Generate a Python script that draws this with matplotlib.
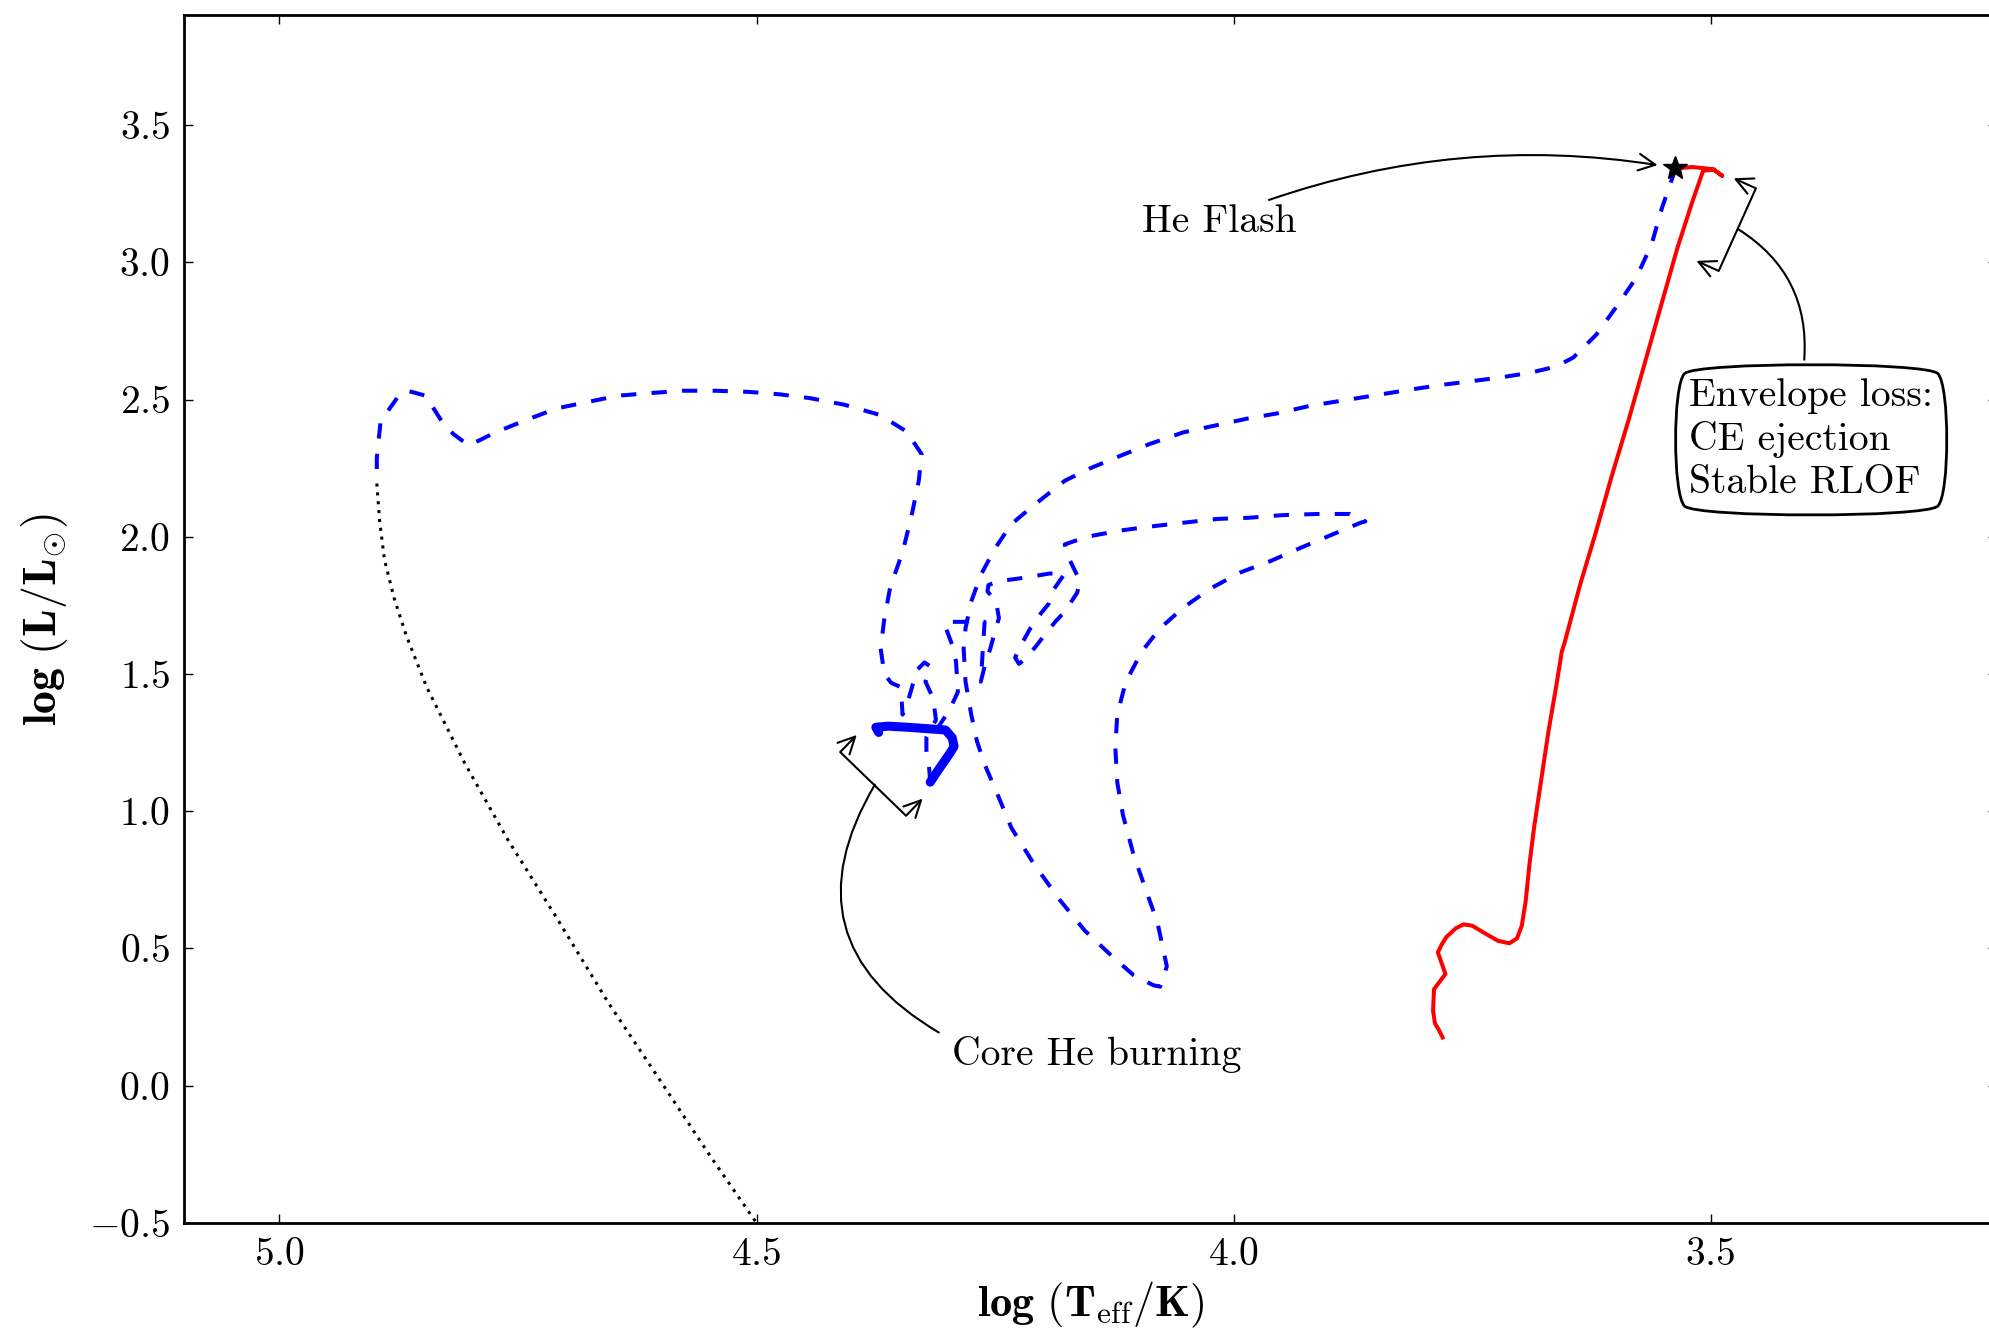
import matplotlib
matplotlib.use('Agg')
import matplotlib.pyplot as plt

plt.rcParams['font.family'] = 'serif'
plt.rcParams['font.serif'] = ['cmr10']
plt.rcParams['mathtext.fontset'] = 'cm'
plt.rcParams['axes.formatter.use_mathtext'] = True
plt.rcParams['lines.scale_dashes'] = False

# --- red giant branch (solid red) ---
rgb_logT = [3.781, 3.785, 3.789, 3.791, 3.790, 3.778, 3.786, 3.782, 3.777, 3.767,
            3.759, 3.750, 3.737, 3.723, 3.711, 3.703, 3.698, 3.694, 3.690, 3.685,
            3.678, 3.670, 3.662, 3.656, 3.653, 3.637, 3.621, 3.604, 3.586, 3.569,
            3.552, 3.535, 3.520, 3.508, 3.497, 3.488, 3.497, 3.508, 3.520, 3.532]
rgb_logL = [0.176, 0.204, 0.227, 0.273, 0.352, 0.407, 0.486, 0.514, 0.542, 0.574,
            0.588, 0.583, 0.556, 0.528, 0.519, 0.537, 0.583, 0.671, 0.806, 0.944,
            1.106, 1.292, 1.454, 1.583, 1.616, 1.824, 2.009, 2.218, 2.426, 2.634,
            2.843, 3.051, 3.213, 3.333, 3.338, 3.315, 3.338, 3.343, 3.347, 3.343]

# --- from the He flash down to core He burning (dashed blue) ---
flash_logT = [3.537, 3.539, 3.551, 3.562, 3.578, 3.597, 3.620, 3.644, 3.662, 3.690,
              3.723, 3.755, 3.787, 3.822, 3.854, 3.888, 3.920, 3.955, 3.985, 4.017,
              4.053, 4.088, 4.118, 4.150, 4.177, 4.209, 4.233, 4.250, 4.265, 4.275,
              4.281, 4.283, 4.281, 4.275, 4.269, 4.261, 4.249, 4.233, 4.209, 4.182,
              4.156, 4.129, 4.105, 4.084, 4.077, 4.070, 4.080, 4.092, 4.105, 4.116,
              4.122, 4.124, 4.122, 4.113, 4.096, 4.077, 4.053, 4.025, 3.993, 3.961,
              3.931, 3.896, 3.867, 3.862, 3.878, 3.912, 3.948, 3.985, 4.017, 4.053,
              4.088, 4.118, 4.154, 4.177, 4.174, 4.161, 4.164, 4.177, 4.186, 4.197,
              4.206, 4.218, 4.225, 4.229, 4.222, 4.213, 4.205, 4.194, 4.189, 4.177,
              4.193, 4.210, 4.227, 4.247, 4.257, 4.258, 4.249, 4.246, 4.251, 4.255,
              4.261, 4.265, 4.261, 4.282, 4.301, 4.303, 4.295, 4.291, 4.289, 4.295,
              4.301, 4.309]
flash_logL = [3.343, 3.319, 3.199, 3.065, 2.944, 2.847, 2.736, 2.653, 2.620, 2.597,
              2.579, 2.565, 2.551, 2.532, 2.514, 2.495, 2.477, 2.449, 2.431, 2.407,
              2.380, 2.338, 2.296, 2.250, 2.204, 2.116, 2.046, 1.958, 1.861, 1.764,
              1.667, 1.593, 1.472, 1.352, 1.255, 1.171, 1.074, 0.940, 0.806, 0.676,
              0.565, 0.477, 0.403, 0.366, 0.361, 0.435, 0.597, 0.713, 0.843, 0.986,
              1.106, 1.231, 1.352, 1.472, 1.583, 1.667, 1.741, 1.810, 1.870, 1.912,
              1.958, 2.009, 2.051, 2.056, 2.083, 2.083, 2.079, 2.069, 2.065, 2.051,
              2.037, 2.023, 2.000, 1.972, 1.931, 1.838, 1.796, 1.727, 1.694, 1.648,
              1.606, 1.556, 1.537, 1.560, 1.611, 1.667, 1.708, 1.755, 1.806, 1.866,
              1.866, 1.856, 1.847, 1.838, 1.824, 1.801, 1.764, 1.704, 1.644, 1.593,
              1.528, 1.472, 1.690, 1.690, 1.690, 1.681, 1.606, 1.546, 1.435, 1.390,
              1.352, 1.310]

# --- core He burning (thick solid blue) ---
chb_logT = [4.372, 4.375, 4.362, 4.342, 4.322, 4.302, 4.295, 4.293, 4.298, 4.309, 4.318]
chb_logL = [1.287, 1.306, 1.310, 1.306, 1.301, 1.296, 1.268, 1.236, 1.208, 1.153, 1.106]

# --- after core He burning (dashed blue) ---
post_logT = [4.318, 4.319, 4.322, 4.322, 4.312, 4.315, 4.323, 4.318, 4.324, 4.332,
             4.340, 4.347, 4.348, 4.350, 4.359, 4.366, 4.370, 4.366, 4.360, 4.347,
             4.338, 4.330, 4.327, 4.343, 4.371, 4.408, 4.444, 4.476, 4.509, 4.544,
             4.577, 4.613, 4.645, 4.677, 4.709, 4.741, 4.774, 4.790, 4.802, 4.818,
             4.830, 4.847, 4.866, 4.874, 4.894, 4.898, 4.898]
post_logL = [1.106, 1.153, 1.222, 1.269, 1.333, 1.412, 1.472, 1.528, 1.542, 1.514,
             1.417, 1.352, 1.407, 1.454, 1.468, 1.500, 1.593, 1.704, 1.815, 1.944,
             2.069, 2.204, 2.301, 2.384, 2.444, 2.481, 2.505, 2.519, 2.528, 2.532,
             2.532, 2.523, 2.514, 2.491, 2.468, 2.426, 2.380, 2.352, 2.333, 2.375,
             2.421, 2.514, 2.532, 2.519, 2.421, 2.287, 2.194]

# --- cooling track (dotted black) ---
cool_logT = [4.898, 4.895, 4.890, 4.880, 4.867, 4.846, 4.806, 4.761, 4.711, 4.656,
             4.601, 4.548, 4.500]
cool_logL = [2.194, 2.056, 1.917, 1.778, 1.639, 1.454, 1.176, 0.898, 0.620, 0.306,
             0.019, -0.259, -0.500]

fig = plt.figure(figsize=(19.9, 13.35), dpi=100)
ax = fig.add_axes([0.0925, 0.0839, 0.911, 0.9047])

ax.plot(cool_logT, cool_logL, color='black', lw=2.2, dashes=(2.2, 4.2))
ax.plot(flash_logT, flash_logL, color='blue', lw=2.9, dashes=(11, 11))
ax.plot(post_logT, post_logL, color='blue', lw=2.9, dashes=(11, 11))
ax.plot(chb_logT, chb_logL, color='blue', lw=6.5, solid_capstyle='round',
        solid_joinstyle='round')
ax.plot(rgb_logT, rgb_logL, color='red', lw=2.9, solid_joinstyle='round')
ax.plot(flash_logT[0], flash_logL[0], marker='*', color='black', ms=18, zorder=5)

ax.set_xlim(5.1, 3.2)
ax.set_ylim(-0.5, 3.9)
ax.set_xticks([5.0, 4.5, 4.0, 3.5])
ax.set_yticks([-0.5, 0.0, 0.5, 1.0, 1.5, 2.0, 2.5, 3.0, 3.5])
ax.tick_params(direction='in', top=True, right=True, length=6.7, width=1.0,
               labelsize=28.5, pad=10)
for s in ax.spines.values():
    s.set_linewidth(2.0)

ax.set_xlabel(r'$\mathbf{log\ (T}_{\mathrm{eff}}\mathbf{/K)}$', fontsize=32)
ax.set_ylabel(r'$\mathbf{log\ (L/L}_{\odot}\mathbf{)}$', fontsize=33)
ax.xaxis.set_label_coords(0.5, -0.047)
ax.yaxis.set_label_coords(-0.063, 0.5)

# annotations
txt = 28.5
ax.text(4.096, 3.111, 'He Flash', fontsize=txt, ha='left', va='baseline')
ax.annotate('', xy=(flash_logT[0], flash_logL[0]), xytext=(3.963, 3.227),
            arrowprops=dict(arrowstyle='->', connectionstyle='arc3,rad=-0.13',
                            color='black', lw=1.5, shrinkA=0, shrinkB=13,
                            mutation_scale=30))

ax.text(4.295, 0.076, 'Core He burning', fontsize=txt, ha='left', va='baseline')
ax.annotate('', xy=(4.326, 1.046), xytext=(4.395, 1.278),
            arrowprops=dict(arrowstyle='<->', connectionstyle='bar,fraction=0.26',
                            color='black', lw=1.5, shrinkA=0, shrinkB=0,
                            mutation_scale=30))
ax.annotate('', xy=(4.376, 1.097), xytext=(4.309, 0.194),
            arrowprops=dict(arrowstyle='-', connectionstyle='arc3,rad=-0.5',
                            color='black', lw=1.5, shrinkA=0, shrinkB=0))

ax.text(3.5225, 2.577, 'Envelope loss:\nCE ejection\nStable RLOF', fontsize=txt,
        ha='left', va='top', linespacing=1.25,
        bbox=dict(boxstyle='round4,pad=0.42,rounding_size=0.3', fc='white',
                  ec='black', lw=2))
ax.annotate('', xy=(3.476, 3.306), xytext=(3.515, 3.005),
            arrowprops=dict(arrowstyle='<->', connectionstyle='bar,fraction=0.27',
                            color='black', lw=1.5, shrinkA=0, shrinkB=0,
                            mutation_scale=30))
ax.annotate('', xy=(3.471, 3.120), xytext=(3.402, 2.645),
            arrowprops=dict(arrowstyle='-', connectionstyle='arc3,rad=0.3',
                            color='black', lw=1.5, shrinkA=0, shrinkB=0))

fig.savefig('out.png', dpi=100)
